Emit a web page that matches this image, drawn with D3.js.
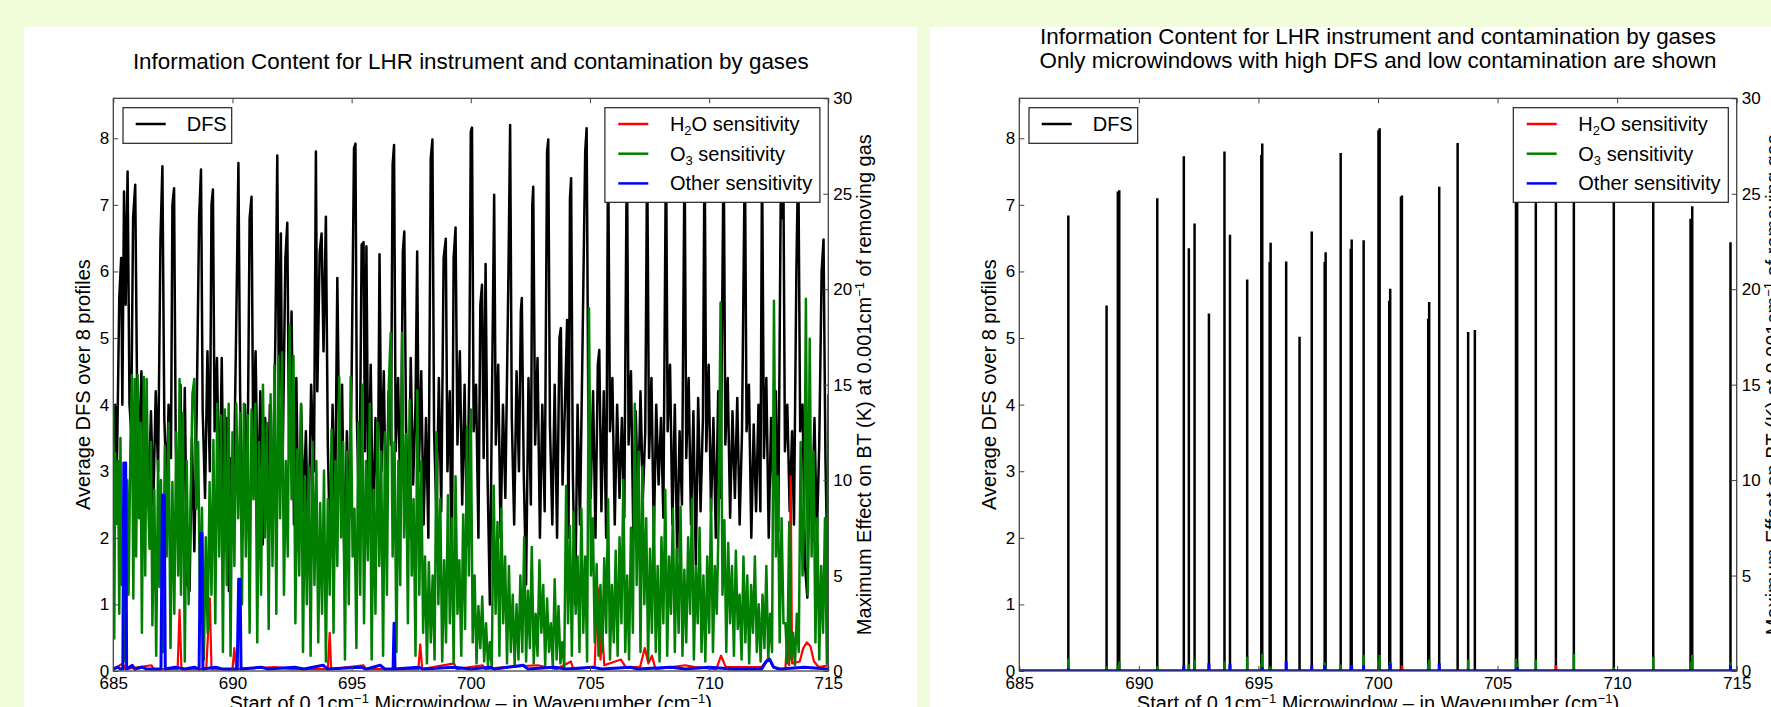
<!DOCTYPE html>
<html>
<head>
<meta charset="utf-8">
<script src="https://cdn.jsdelivr.net/npm/d3@7"></script>
<style>
  body { margin: 0; background: #f1fcdb; }
  svg text { font-family: "Liberation Sans", Arial, sans-serif; fill: #000; }
</style>
</head>
<body>
<div id="chart"></div>
<script>
// ---- data ----
var xTicks = [685, 690, 695, 700, 705, 710, 715];
var dfsTicks = [0, 1, 2, 3, 4, 5, 6, 7, 8];
var effectTicks = [0, 5, 10, 15, 20, 25, 30];

// left chart: [wavenumber, average DFS]
var dfsAll = [[685.00,3.2],[685.08,4.0],[685.15,3.0],[685.25,5.6],[685.33,6.2],[685.38,4.0],[685.45,7.2],[685.52,5.5],[685.60,7.5],[685.68,4.0],
  [685.75,3.6],[685.83,6.8],[685.92,7.3],[686.00,4.1],[686.08,3.3],[686.18,4.5],[686.28,2.8],[686.38,3.8],[686.48,2.6],[686.58,3.9],
  [686.68,2.5],[686.78,4.2],[686.88,3.0],[686.98,6.5],[687.06,7.58],[687.14,3.8],[687.24,2.7],[687.32,4.0],[687.42,3.2],[687.48,7.0],
  [687.55,7.25],[687.62,3.4],[687.72,2.2],[687.82,4.3],[687.90,2.0],[688.00,4.25],[688.10,1.3],[688.20,1.2],[688.30,3.5],[688.40,1.8],
  [688.50,3.9],[688.60,6.8],[688.68,7.53],[688.75,3.9],[688.85,2.6],[688.95,4.8],[689.05,3.0],[689.12,7.0],[689.18,7.23],[689.25,3.6],
  [689.35,4.7],[689.45,2.4],[689.55,4.7],[689.65,1.8],[689.75,3.8],[689.85,1.2],[689.95,3.2],[690.05,2.6],[690.15,5.0],[690.25,7.63],
  [690.32,4.2],[690.42,2.0],[690.52,4.0],[690.62,2.5],[690.72,6.8],[690.80,7.12],[690.87,3.4],[690.97,4.8],[691.07,2.4],[691.17,4.2],
  [691.27,1.9],[691.37,3.8],[691.47,2.3],[691.57,4.0],[691.67,2.1],[691.80,5.0],[691.88,7.74],[691.95,4.0],[692.03,6.57],[692.10,3.0],
  [692.22,6.2],[692.30,6.73],[692.38,3.2],[692.48,5.4],[692.58,2.2],[692.68,4.4],[692.78,1.8],[692.88,4.0],[692.98,2.4],[693.08,3.6],
  [693.18,1.9],[693.30,4.3],[693.42,3.0],[693.50,7.8],[693.56,4.2],[693.66,6.3],[693.74,6.57],[693.82,4.8],[693.92,6.82],[694.00,3.4],
  [694.10,1.7],[694.20,4.0],[694.30,2.2],[694.40,5.9],[694.50,2.8],[694.60,4.3],[694.70,1.4],[694.80,3.6],[694.90,2.3],[695.00,4.4],
  [695.10,7.85],[695.16,7.92],[695.22,3.8],[695.32,2.2],[695.42,6.4],[695.50,6.44],[695.56,3.3],[695.62,6.38],[695.70,2.6],[695.80,4.6],
  [695.90,2.0],[696.00,3.8],[696.10,2.5],[696.17,6.26],[696.25,3.0],[696.35,4.5],[696.45,2.0],[696.55,4.2],[696.65,3.4],[696.72,7.6],
  [696.78,7.9],[696.85,3.3],[696.95,4.4],[697.05,2.4],[697.15,6.3],[697.21,6.6],[697.28,3.8],[697.38,2.0],[697.48,4.7],[697.58,2.8],
  [697.68,4.0],[697.75,6.3],[697.82,3.0],[697.92,4.5],[698.02,2.2],[698.12,3.8],[698.22,2.0],[698.32,7.7],[698.39,7.98],[698.46,3.6],
  [698.56,2.3],[698.66,4.4],[698.76,2.4],[698.86,6.2],[698.95,6.49],[699.02,3.0],[699.12,4.2],[699.20,1.1],[699.28,6.2],[699.36,6.66],
  [699.44,3.4],[699.54,4.8],[699.64,2.5],[699.74,4.3],[699.84,1.9],[699.94,4.6],[700.00,8.1],[700.05,8.16],[700.12,3.6],[700.22,4.3],
  [700.32,2.0],[700.40,5.5],[700.47,5.8],[700.54,3.2],[700.62,6.11],[700.70,3.0],[700.80,1.0],[700.90,4.5],[700.98,7.15],[701.05,3.4],
  [701.15,4.6],[701.25,2.0],[701.35,4.0],[701.45,2.6],[701.58,6.0],[701.65,8.2],[701.72,3.8],[701.82,2.2],[701.92,4.5],[702.02,3.0],
  [702.10,5.4],[702.14,5.6],[702.22,3.0],[702.32,1.3],[702.42,4.4],[702.52,2.5],[702.58,7.0],[702.62,7.27],[702.70,3.4],[702.80,4.7],
  [702.90,2.0],[703.00,4.0],[703.10,2.4],[703.20,7.8],[703.25,7.98],[703.32,3.7],[703.42,2.2],[703.52,4.3],[703.62,2.0],[703.72,5.0],
  [703.78,5.15],[703.85,2.8],[703.95,4.0],[704.04,5.27],[704.10,2.0],[704.16,7.1],[704.21,7.4],[704.28,3.0],[704.38,1.0],[704.48,4.0],
  [704.58,2.2],[704.68,4.7],[704.80,7.8],[704.86,8.15],[704.93,3.9],[705.03,2.6],[705.13,4.2],[705.23,2.0],[705.33,4.6],[705.39,4.82],
  [705.48,2.4],[705.58,4.2],[705.68,2.0],[705.76,8.0],[705.84,3.6],[705.94,4.4],[706.04,2.2],[706.14,4.0],[706.24,2.6],[706.34,3.8],
  [706.44,2.3],[706.55,8.1],[706.62,3.4],[706.72,4.5],[706.82,2.0],[706.92,3.9],[707.02,2.5],[707.12,4.2],[707.22,2.6],[707.32,3.6],
  [707.40,7.9],[707.48,3.2],[707.58,4.4],[707.68,2.0],[707.78,4.0],[707.88,2.8],[707.98,3.8],[708.08,2.3],[708.19,8.0],[708.26,3.6],
  [708.36,4.6],[708.46,2.2],[708.56,4.0],[708.66,1.7],[708.76,3.6],[708.86,2.5],[708.97,7.9],[709.04,3.2],[709.14,4.4],[709.24,2.2],
  [709.34,3.9],[709.44,1.6],[709.54,4.1],[709.64,2.4],[709.74,3.8],[709.81,8.1],[709.88,3.3],[709.98,4.6],[710.08,2.4],[710.18,3.8],
  [710.28,2.0],[710.38,4.2],[710.48,2.6],[710.61,8.0],[710.68,3.4],[710.78,4.4],[710.88,2.3],[710.98,3.9],[711.08,2.6],[711.18,4.1],
  [711.28,2.2],[711.38,3.6],[711.50,7.9],[711.57,3.6],[711.67,4.3],[711.77,2.0],[711.87,3.7],[711.97,2.4],[712.07,4.0],[712.15,2.4],
  [712.22,7.8],[712.30,3.2],[712.40,4.4],[712.50,2.0],[712.60,3.8],[712.70,2.6],[712.80,4.2],[712.90,2.1],[713.02,7.9],[713.07,6.8],
  [713.12,7.2],[713.18,3.3],[713.28,4.0],[713.38,2.4],[713.48,3.6],[713.56,2.2],[713.66,6.0],[713.74,7.8],[713.82,3.6],[713.92,4.0],
  [714.02,1.6],[714.12,1.1],[714.22,3.2],[714.32,2.4],[714.42,3.8],[714.52,2.0],[714.62,3.4],[714.72,6.0],[714.80,6.48],[714.88,3.2],
  [714.96,1.6],[715.00,2.6]];

// left chart: [wavenumber, K] for O3
var o3All = [[685.00,13.9],[685.04,1.7],[685.08,11.4],[685.12,9.6],[685.16,7.7],[685.20,11.0],[685.25,3.0],[685.30,12.2],[685.36,4.5],[685.42,8.5],
  [685.50,0.5],[685.58,10.0],[685.64,4.0],[685.72,12.0],[685.78,15.5],[685.84,3.8],[685.90,15.3],[685.96,6.0],[686.02,15.5],[686.08,8.0],
  [686.14,13.0],[686.20,2.0],[686.28,15.4],[686.34,5.0],[686.40,15.3],[686.46,9.0],[686.52,6.4],[686.58,12.0],[686.64,2.4],[686.72,9.5],
  [686.80,0.8],[686.88,11.0],[686.94,4.4],[687.00,10.0],[687.08,1.0],[687.16,11.8],[687.24,6.0],[687.32,13.0],[687.40,1.2],[687.48,9.9],
  [687.56,3.0],[687.64,12.5],[687.72,5.0],[687.78,15.3],[687.84,4.0],[687.92,13.5],[688.00,0.5],[688.08,11.0],[688.16,3.5],[688.24,8.5],
  [688.32,14.5],[688.40,15.3],[688.48,8.5],[688.56,12.0],[688.64,3.0],[688.72,8.55],[688.80,0.6],[688.88,7.0],[688.96,2.0],[689.04,9.9],
  [689.12,4.0],[689.20,12.1],[689.28,2.5],[689.36,14.0],[689.44,6.0],[689.52,13.4],[689.60,1.0],[689.68,13.7],[689.76,4.5],[689.84,14.0],
  [689.92,0.8],[690.00,12.5],[690.08,5.5],[690.16,14.0],[690.24,8.0],[690.32,13.5],[690.40,3.5],[690.48,14.0],[690.56,6.0],[690.64,13.4],
  [690.72,2.0],[690.80,13.7],[690.88,9.0],[690.96,14.0],[691.04,1.5],[691.12,12.0],[691.20,4.0],[691.28,15.0],[691.36,7.0],[691.44,13.0],
  [691.52,2.2],[691.60,14.5],[691.68,5.5],[691.76,16.0],[691.84,3.0],[691.92,16.5],[692.00,8.0],[692.08,16.7],[692.16,4.0],[692.24,11.0],
  [692.32,6.0],[692.40,18.1],[692.48,9.0],[692.56,16.5],[692.64,2.5],[692.72,11.6],[692.80,5.0],[692.88,14.0],[692.96,1.0],[693.04,10.2],
  [693.12,3.5],[693.20,10.7],[693.28,0.8],[693.36,12.0],[693.44,4.5],[693.52,11.0],[693.60,1.5],[693.68,8.8],[693.76,3.0],[693.84,10.5],
  [693.92,0.5],[694.00,9.0],[694.08,4.0],[694.16,12.65],[694.24,2.0],[694.32,11.0],[694.40,5.5],[694.48,15.4],[694.56,7.0],[694.64,12.0],
  [694.72,0.6],[694.80,11.5],[694.88,3.5],[694.96,15.4],[695.04,6.0],[695.12,8.5],[695.20,1.2],[695.28,13.0],[695.36,4.0],[695.44,15.0],
  [695.52,2.5],[695.60,11.0],[695.68,5.8],[695.76,14.0],[695.84,0.6],[695.92,9.5],[696.00,3.0],[696.08,13.0],[696.16,5.5],[696.24,11.5],
  [696.32,0.8],[696.40,12.5],[696.48,4.0],[696.56,15.0],[696.64,17.7],[696.72,6.0],[696.80,12.0],[696.88,1.0],[696.96,11.0],[697.04,4.5],
  [697.12,17.7],[697.20,7.0],[697.28,12.4],[697.36,2.5],[697.44,14.2],[697.52,5.0],[697.60,9.0],[697.68,0.8],[697.76,14.7],[697.84,4.0],
  [697.92,11.0],[698.00,2.0],[698.08,6.0],[698.16,0.4],[698.24,5.7],[698.32,1.5],[698.40,5.0],[698.48,0.6],[698.56,12.5],[698.64,3.5],
  [698.72,9.0],[698.80,0.5],[698.88,5.8],[698.96,1.5],[699.04,9.2],[699.12,2.5],[699.20,8.0],[699.28,0.4],[699.36,10.2],[699.44,3.0],
  [699.52,5.8],[699.60,0.8],[699.68,8.2],[699.76,2.2],[699.84,12.8],[699.92,5.0],[700.00,13.7],[700.08,1.5],[700.16,5.0],[700.24,0.4],
  [700.32,3.4],[700.40,1.2],[700.48,3.9],[700.56,0.5],[700.64,2.5],[700.72,0.3],[700.80,1.5],[700.88,0.2],[700.96,9.7],[701.04,3.0],
  [701.12,7.8],[701.20,0.8],[701.28,8.5],[701.36,2.5],[701.44,6.0],[701.52,0.4],[701.60,5.5],[701.68,1.0],[701.76,4.0],[701.84,0.3],
  [701.92,3.5],[702.00,0.6],[702.08,5.0],[702.16,1.0],[702.24,7.0],[702.32,0.5],[702.40,4.2],[702.48,1.2],[702.56,6.5],[702.64,0.4],
  [702.72,3.0],[702.80,0.8],[702.88,5.8],[702.96,2.0],[703.04,4.5],[703.12,0.3],[703.20,3.8],[703.28,1.0],[703.36,2.5],[703.44,0.2],
  [703.52,4.8],[703.60,0.6],[703.68,3.4],[703.76,0.4],[703.84,1.5],[703.92,0.2],[704.00,9.7],[704.08,2.5],[704.16,7.6],[704.24,0.8],
  [704.32,8.3],[704.40,3.0],[704.48,6.0],[704.56,1.0],[704.64,8.5],[704.72,2.0],[704.80,6.0],[704.88,0.5],[704.96,19.0],[705.04,5.0],
  [705.12,8.0],[705.20,1.5],[705.28,5.6],[705.36,0.8],[705.44,4.5],[705.52,1.0],[705.60,5.9],[705.68,2.0],[705.76,9.0],[705.84,0.6],
  [705.92,4.5],[706.00,1.5],[706.08,6.3],[706.16,0.8],[706.24,7.0],[706.32,2.5],[706.40,10.0],[706.48,1.0],[706.56,5.0],[706.64,0.6],
  [706.72,7.5],[706.80,2.0],[706.88,14.0],[706.96,4.5],[707.04,11.5],[707.12,1.0],[707.20,10.7],[707.28,3.5],[707.36,8.0],[707.44,0.6],
  [707.52,6.4],[707.60,2.0],[707.68,8.6],[707.76,1.0],[707.84,5.5],[707.92,0.5],[708.00,7.0],[708.08,2.5],[708.16,9.5],[708.24,0.8],
  [708.32,6.0],[708.40,3.0],[708.48,8.5],[708.56,1.0],[708.64,6.4],[708.72,2.0],[708.80,8.6],[708.88,0.8],[708.96,5.3],[709.04,1.5],
  [709.12,7.0],[709.20,3.0],[709.28,9.0],[709.36,0.6],[709.44,5.5],[709.52,2.5],[709.60,7.5],[709.68,1.0],[709.76,5.0],[709.84,0.5],
  [709.92,6.0],[710.00,2.0],[710.08,9.0],[710.16,1.0],[710.24,5.5],[710.32,3.0],[710.40,8.0],[710.48,19.3],[710.56,4.0],[710.64,7.9],
  [710.72,1.0],[710.80,6.7],[710.88,2.5],[710.96,5.5],[711.04,0.8],[711.12,6.3],[711.20,2.2],[711.28,4.0],[711.36,0.6],[711.44,6.0],
  [711.52,1.5],[711.60,5.0],[711.68,0.4],[711.76,4.5],[711.84,2.0],[711.92,6.0],[712.00,1.0],[712.08,3.5],[712.16,0.5],[712.24,4.0],
  [712.32,1.2],[712.40,5.5],[712.48,0.6],[712.56,3.0],[712.64,1.0],[712.72,19.4],[712.80,6.0],[712.88,10.2],[712.96,1.5],[713.04,8.0],
  [713.12,2.5],[713.20,2.5],[713.28,0.4],[713.36,7.8],[713.44,0.6],[713.52,2.0],[713.60,0.3],[713.68,3.0],[713.76,1.0],[713.84,12.0],
  [713.92,5.0],[714.00,9.0],[714.06,19.5],[714.14,4.0],[714.22,17.4],[714.30,6.0],[714.38,11.5],[714.46,1.5],[714.54,8.0],[714.62,0.6],
  [714.70,5.5],[714.78,2.0],[714.86,8.0],[714.94,0.4],[715.00,14.5]];

// left chart: [wavenumber, K] for H2O
var h2oAll = [[685.00,0.1],[685.40,0.4],[685.50,0.1],[686.60,0.3],[686.70,0.1],[687.70,0.1],[687.78,3.2],[687.86,0.1],[688.90,0.1],[689.05,3.8],
  [689.12,0.1],[690.00,0.1],[690.08,1.2],[690.16,0.1],[691.80,0.2],[692.50,0.1],[694.00,0.1],[694.08,2.0],[694.14,0.1],[695.50,0.3],
  [695.60,0.1],[697.80,0.1],[697.88,1.4],[697.96,0.1],[699.30,0.4],[699.40,0.1],[700.50,0.3],[700.60,0.1],[701.40,0.2],[702.80,0.3],
  [703.60,0.1],[704.20,0.5],[704.30,0.1],[705.20,0.2],[705.30,4.4],[705.38,4.2],[705.44,0.6],[705.52,2.0],[705.60,0.3],[706.30,0.6],
  [706.50,0.2],[707.10,0.2],[707.30,1.2],[707.45,0.4],[707.60,0.8],[707.75,0.1],[709.00,0.3],[709.40,0.2],[710.30,0.1],[710.50,0.8],
  [710.70,0.2],[712.20,0.2],[712.50,0.7],[712.65,0.3],[712.85,0.1],[713.20,0.1],[713.30,2.4],[713.36,0.3],[713.42,10.2],[713.48,0.4],
  [713.80,0.5],[713.95,1.2],[714.10,1.5],[714.25,1.3],[714.40,0.5],[714.60,0.2],[715.00,0.3]];

// left chart: [wavenumber, K] for other gases
var otherAll = [[685.00,0.1],[685.20,0.2],[685.30,0.1],[685.40,0.1],[685.44,10.9],[685.52,10.9],[685.56,0.1],[685.80,0.3],[685.90,0.1],[686.20,0.2],
  [686.40,0.1],[687.00,0.1],[687.06,9.2],[687.14,9.2],[687.18,0.1],[687.60,0.2],[688.00,0.1],[688.40,0.2],[688.60,0.1],[688.66,7.2],
  [688.72,7.2],[688.76,0.1],[689.30,0.2],[689.60,0.1],[690.20,0.1],[690.26,4.8],[690.32,4.8],[690.36,0.1],[691.20,0.2],[691.50,0.1],
  [692.60,0.2],[693.00,0.1],[693.80,0.3],[694.00,0.1],[695.40,0.2],[695.60,0.1],[696.20,0.3],[696.40,0.1],[696.74,0.1],[696.78,2.5],
  [696.82,0.1],[697.80,0.2],[698.00,0.1],[699.30,0.2],[700.00,0.1],[700.80,0.2],[701.00,0.1],[702.20,0.3],[702.40,0.1],[703.50,0.2],
  [704.00,0.1],[705.10,0.2],[705.50,0.1],[706.70,0.2],[707.00,0.1],[708.40,0.2],[709.00,0.1],[710.00,0.2],[711.00,0.1],[712.20,0.1],
  [712.40,0.5],[712.55,0.6],[712.70,0.2],[713.00,0.1],[714.00,0.2],[715.00,0.1]];

// right chart: selected microwindows
var selWn    = [687.05,688.65,689.12,689.18,690.77,691.88,692.09,692.33,692.93,693.58,693.81,694.53,695.12,695.16,695.47,695.51,
  696.16,696.72,697.23,697.77,697.81,698.44,698.86,698.90,699.40,700.02,700.07,700.47,700.51,700.96,701.00,702.10,702.14,
  702.56,703.33,703.77,704.05,705.77,705.82,706.60,707.44,708.19,709.86,711.51,713.07,713.14,714.74];
var selDfs   = [6.84,5.49,7.2,7.22,7.1,7.73,6.35,6.72,5.37,7.8,6.55,5.88,7.75,7.92,6.14,6.43,
  6.15,5.02,6.6,6.14,6.29,7.78,6.34,6.48,6.47,8.12,8.15,5.56,5.74,7.12,7.14,5.29,5.54,
  7.27,7.93,5.09,5.12,7.9,7.7,7.5,7.7,7.9,8.0,7.6,6.79,6.98,6.44];
var selO3    = [0.65,0.25,0.3,0.5,0.25,0.2,0.35,0.6,0.25,0.5,0.25,0.75,0.4,0.9,0.25,0.2,
  0.1,0.1,0.1,0.45,0.3,0.35,0.2,0.3,0.85,0.6,0.85,0.3,0.45,0.1,0.1,0.4,0.6,
  0.2,0.1,0.6,0.1,0.65,0.4,0.6,0.1,0.9,0.2,0.75,0.5,0.85,0.45];
var selH2o   = [0,0,0,0,0,0,0,0,0,0,0,0,0,0,0,0,
  0,0,0,0,0,0,0,0,0,0,0,0,0,0,0.3,0,0,
  0,0,0,0,0,0,0,0.3,0,0,0,0,0,0];
var selOther = [0.15,0.1,0.1,0.1,0.1,0.3,0.1,0.1,0.4,0.1,0.35,0.1,0.1,0.2,0.1,0.1,
  0.5,0.1,0.3,0.3,0.1,0.1,0.1,0.3,0.3,0.1,0.1,0.1,0.4,0.1,0.1,0.1,0.1,
  0.4,0.1,0.1,0.1,0.1,0.2,0.1,0.1,0.1,0.1,0.1,0.1,0.1,0.3];

// ---- layout ----
var W = 1771, H = 707;
var plotTop = 98.3, plotBottom = 671;
var cH2O = "#ff0000", cO3 = "#007f00", cOther = "#0000ff", cDfs = "#000000";

var svg = d3.select("#chart").append("svg")
    .attr("width", W)
    .attr("height", H);

svg.append("rect").attr("width", W).attr("height", H).attr("fill", "#f1fcdb");
svg.append("rect").attr("x", 24).attr("y", 27).attr("width", 893).attr("height", H - 27).attr("fill", "#fff");
svg.append("rect").attr("x", 930).attr("y", 27).attr("width", W - 930).attr("height", H - 27).attr("fill", "#fff");

function panel(id, left, right, titleLines, drawBlack, drawGases) {
  var x = d3.scaleLinear().domain([685, 715]).range([left, right]);
  var yL = d3.scaleLinear().domain([0, 8.6]).range([plotBottom, plotTop]);
  var yR = d3.scaleLinear().domain([0, 30]).range([plotBottom, plotTop]);
  var mid = (left + right) / 2;

  var g = svg.append("g");

  svg.append("clipPath").attr("id", id)
    .append("rect")
      .attr("x", left).attr("y", plotTop)
      .attr("width", right - left).attr("height", plotBottom - plotTop);

  // title
  var base = titleLines.length == 1 ? 68.5 : 44;
  titleLines.forEach(function (t, i) {
    g.append("text")
      .attr("x", mid).attr("y", base + i * 24)
      .attr("text-anchor", "middle")
      .attr("font-size", "22.4px")
      .text(t);
  });

  var plot = g.append("g").attr("clip-path", "url(#" + id + ")");
  drawBlack(plot, x, yL);

  // DFS legend (main axes)
  var lg = g.append("g").attr("transform", "translate(" + (left + 9.7) + "," + (plotTop + 9.4) + ")");
  lg.append("rect").attr("width", 108.7).attr("height", 35.6)
    .attr("fill", "#fff").attr("stroke", "#222").attr("stroke-width", 1.2);
  lg.append("line").attr("x1", 12.7).attr("x2", 42.7).attr("y1", 16.3).attr("y2", 16.3)
    .attr("stroke", cDfs).attr("stroke-width", 2.5);
  lg.append("text").attr("x", 63.7).attr("y", 16.3).attr("dy", "0.35em")
    .attr("font-size", "20px").text("DFS");

  var plot2 = g.append("g").attr("clip-path", "url(#" + id + ")");
  drawGases(plot2, x, yR);

  // gas legend (twin axes)
  var entries = [
    {c: cH2O, parts: [["H", 0], ["2", 1], ["O sensitivity", 0]]},
    {c: cO3, parts: [["O", 0], ["3", 1], [" sensitivity", 0]]},
    {c: cOther, parts: [["Other sensitivity", 0]]}
  ];
  var rg = g.append("g").attr("transform", "translate(" + (right - 223.4) + "," + (plotTop + 9.4) + ")");
  rg.append("rect").attr("width", 215).attr("height", 94.6)
    .attr("fill", "#fff").attr("stroke", "#222").attr("stroke-width", 1.2);
  entries.forEach(function (e, i) {
    var yy = 16.3 + i * 29.7;
    rg.append("line").attr("x1", 13.4).attr("x2", 43.4).attr("y1", yy).attr("y2", yy)
      .attr("stroke", e.c).attr("stroke-width", 2.5);
    var t = rg.append("text").attr("x", 65).attr("y", yy + 7).attr("font-size", "20px");
    e.parts.forEach(function (p) {
      var s = t.append("tspan").text(p[0]);
      if (p[1]) s.attr("font-size", "13px").attr("dy", 4);
      else if (t.selectAll("tspan").size() > 1) s.attr("dy", -4);
    });
  });

  // frame
  g.append("rect")
    .attr("x", left).attr("y", plotTop)
    .attr("width", right - left).attr("height", plotBottom - plotTop)
    .attr("fill", "none").attr("stroke", "#444").attr("stroke-width", 1.3);

  // axes
  function style(a) {
    a.select(".domain").remove();
    a.selectAll(".tick line").attr("stroke", "#444");
    a.selectAll(".tick text").attr("font-size", "17px").attr("font-family", "Liberation Sans, Arial, sans-serif");
  }
  g.append("g").attr("transform", "translate(0," + plotBottom + ")")
    .call(d3.axisBottom(x).tickValues(xTicks).tickFormat(d3.format("d")).tickSize(-5).tickPadding(6))
    .call(style);
  g.append("g").attr("transform", "translate(0," + plotTop + ")")
    .call(d3.axisTop(x).tickValues(xTicks).tickFormat("").tickSize(-5))
    .call(style);
  g.append("g").attr("transform", "translate(" + left + ",0)")
    .call(d3.axisLeft(yL).tickValues(dfsTicks).tickFormat(d3.format("d")).tickSize(-5).tickPadding(4))
    .call(style);
  g.append("g").attr("transform", "translate(" + right + ",0)")
    .call(d3.axisRight(yR).tickValues(effectTicks).tickFormat(d3.format("d")).tickSize(-5).tickPadding(5))
    .call(style);

  // axis labels
  var ymid = (plotTop + plotBottom) / 2;
  g.append("text")
    .attr("transform", "translate(" + (left - 23) + "," + ymid + ") rotate(-90)")
    .attr("text-anchor", "middle").attr("font-size", "20px")
    .text("Average DFS over 8 profiles");

  var rl = g.append("text")
    .attr("transform", "translate(" + (right + 43) + "," + ymid + ") rotate(-90)")
    .attr("text-anchor", "middle").attr("font-size", "20px");
  rl.append("tspan").text("Maximum Effect on BT (K) at 0.001cm");
  rl.append("tspan").attr("font-size", "13px").attr("dy", -7).text("\u22121");
  rl.append("tspan").attr("dy", 7).text(" of removing gas");

  var xl = g.append("text")
    .attr("x", mid).attr("y", 710)
    .attr("text-anchor", "middle").attr("font-size", "20px");
  xl.append("tspan").text("Start of 0.1cm");
  xl.append("tspan").attr("font-size", "13px").attr("dy", -7).text("\u22121");
  xl.append("tspan").attr("dy", 7).text(" Microwindow \u2013 in Wavenumber (cm");
  xl.append("tspan").attr("font-size", "13px").attr("dy", -7).text("\u22121");
  xl.append("tspan").attr("dy", 7).text(")");
}

function seriesPath(plot, data, x, y, color, width) {
  var line = d3.line().x(function (d) { return x(d[0]); }).y(function (d) { return y(d[1]); });
  plot.append("path")
    .datum(data)
    .attr("d", line)
    .attr("fill", "none")
    .attr("stroke", color)
    .attr("stroke-width", width)
    .attr("stroke-linejoin", "round");
}

function spikes(plot, vals, x, y, color, width) {
  plot.append("line")
    .attr("x1", x(685)).attr("x2", x(715)).attr("y1", y(0)).attr("y2", y(0))
    .attr("stroke", color).attr("stroke-width", width);
  plot.selectAll(null)
    .data(selWn.map(function (w, i) { return [w, vals[i]]; }).filter(function (d) { return d[1] > 0; }))
    .enter().append("line")
      .attr("x1", function (d) { return x(d[0]); })
      .attr("x2", function (d) { return x(d[0]); })
      .attr("y1", y(0))
      .attr("y2", function (d) { return y(d[1]); })
      .attr("stroke", color)
      .attr("stroke-width", width);
}

panel("clipA", 113.3, 828.3,
  ["Information Content for LHR instrument and contamination by gases"],
  function (p, x, y) { seriesPath(p, dfsAll, x, y, cDfs, 2.5); },
  function (p, x, y) {
    seriesPath(p, h2oAll, x, y, cH2O, 2.2);
    seriesPath(p, o3All, x, y, cO3, 2.5);
    seriesPath(p, otherAll, x, y, cOther, 3);
  });

panel("clipB", 1019.3, 1736.7,
  ["Information Content for LHR instrument and contamination by gases",
   "Only microwindows with high DFS and low contamination are shown"],
  function (p, x, y) { spikes(p, selDfs, x, y, cDfs, 2.5); },
  function (p, x, y) {
    spikes(p, selH2o, x, y, cH2O, 2.5);
    spikes(p, selO3, x, y, cO3, 2.5);
    spikes(p, selOther, x, y, cOther, 3);
  });
</script>
</body>
</html>
